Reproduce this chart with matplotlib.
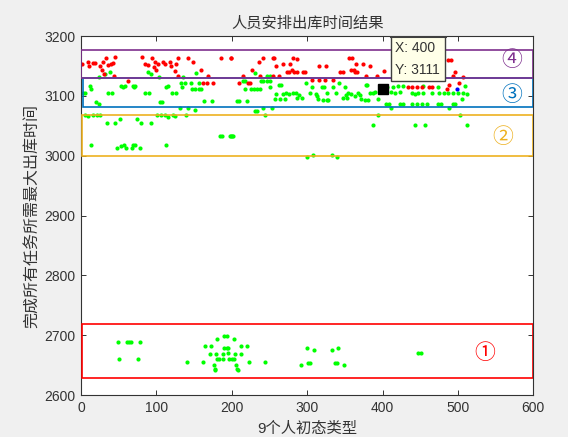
import matplotlib
matplotlib.use("Agg")
import matplotlib.pyplot as plt
from matplotlib.patches import Rectangle

plt.rcParams['font.family'] = ['Liberation Sans', 'Noto Sans CJK SC', 'DejaVu Sans']

# 数据
green_x = [
    2, 5.7, 11.5, 13.7, 20.3, 23.4, 23.4, 32.3, 38, 35.8, 41.1, 53.5, 57.9, 55.7, 68.9, 72, 70.3,
    84.4, 89.7, 88.8, 92.4, 103, 113.2, 115.4, 104.3, 107.4, 120.7, 126.4, 135.3, 133, 137.5,
    133.9, 145.4, 156, 147.2, 151.6, 156, 159.6, 153, 163.1, 173.7, 130.8, 141.9, 151.6,
    4.8, 9.3, 15.9, 21.6, 24.7, 101.2, 106.5, 111, 115.4, 122, 124.2, 139.7,
    34.9, 45.5, 51.3, 74.7, 80, 92.4,
    13.7, 48.2, 53.5, 57, 60.1, 67.6, 69, 72, 77.8, 113.2, 183.9, 187, 197.1, 199.4,
    214.4, 217.5, 230.8, 238.3, 241, 246.2, 250.6, 247, 250.6, 217.5, 225, 229.4, 233, 237.4,
    250.6, 263, 264.8, 258.6, 207.3, 210, 220.6, 230.8, 233.9, 241.8, 252.9, 244,
    257.3, 263.9, 270.5, 267.4, 271.9, 276.3, 280.7, 285.1, 289.6, 286.9, 292.6,
    298.4, 305.9, 319.2, 322.3, 303.7, 311.7, 313.4, 325.8, 314.8, 320.5, 325.8, 328,
    334.6, 342.6, 338.2, 350.1, 351, 354, 358.7, 363, 367, 370, 347, 352.3, 372, 376.6, 381,
    378, 379.8, 383.3, 386.8, 389.9, 394.3, 394.3, 386.8, 199.8, 202, 300.2, 307.2, 332.4, 339,
    405.4, 413.4, 420.9, 427.5, 454, 474, 509.3, 410.7, 416.5, 423.1, 438.6, 443, 447.4,
    454, 465.1, 475.3, 481.5, 487.2, 493.9, 500.5, 507.1, 512.4,
    404.6, 409, 423.1, 427.5, 438.6, 446.1, 451.9, 458.5, 474, 477, 493, 496, 488.5, 504.9,
    410.7, 502.7, 443, 456.3, 512.4,
    49.5, 60.6, 64.1, 65.9, 78.2, 50.8, 76, 140.1, 161.4, 164.4, 172, 179.9, 189.6, 193.2,
    202.9, 211.7, 219.7, 171.1, 179, 187.9, 195.4, 204.2, 211.7, 189.6, 193.2, 195.4,
    179.9, 183.5, 187.9, 196.7, 199.8, 202.9, 176.4, 177.7, 177.7, 205.6, 206.5, 208.7,
    223.2, 244, 300.2, 309, 332.4, 341.3, 291.8, 301.5, 303.7, 336.9, 339.1, 348.8,
    447.4, 450.5,
]
green_y = [
    3105, 3105, 3116, 3112, 3090, 3087, 3131, 3136, 3139, 3105, 3105, 3116, 3116, 3114, 3116, 3116, 3114,
    3105, 3105, 3139, 3136, 3131, 3114, 3116, 3089, 3090, 3105, 3105, 3131, 3122, 3122,
    3114, 3122, 3122, 3111, 3111, 3111, 3111, 3138, 3092, 3092, 3079, 3079, 3076,
    3068, 3066, 3068, 3068, 3068, 3068, 3068, 3068, 3065, 3068, 3066, 3068,
    3055, 3055, 3061, 3061, 3055, 3055,
    3018, 3012, 3016, 3018, 3012, 3012, 3018, 3018, 3012, 3018, 3033, 3033, 3033, 3033,
    3124, 3124, 3138, 3124, 3124, 3124, 3124, 3133, 3133, 3111, 3111, 3111, 3111, 3111,
    3115, 3118, 3118, 3103, 3092, 3092, 3092, 3075, 3075, 3079, 3079, 3068,
    3094, 3094, 3094, 3103, 3105, 3103, 3105, 3104, 3101, 3097, 3097,
    3122, 3114, 3114, 3114, 3104, 3103, 3100, 3105, 3094, 3093, 3093, 3093,
    3114, 3122, 3104, 3114, 3101, 3104, 3103, 3100, 3104, 3101, 3097, 3097, 3094, 3093, 3093,
    3118, 3118, 3104, 3105, 3106, 3094, 3068, 3051, 3033, 3033, 2998, 3001, 3001, 2998,
    3115, 3115, 3116, 3116, 3116, 3115, 3116, 3106, 3105, 3106, 3105, 3103, 3105,
    3104, 3104, 3105, 3105, 3105, 3104, 3105, 3104, 3103,
    3087, 3087, 3086, 3086, 3086, 3086, 3087, 3086, 3086, 3086, 3086, 3086, 3079, 3094,
    3079, 3068, 3051, 3051, 3051,
    2689, 2688, 2688, 2688, 2689, 2661, 2661, 2655, 2655, 2682, 2682, 2693, 2698, 2698,
    2693, 2682, 2682, 2668, 2669, 2669, 2670, 2669, 2668, 2679, 2679, 2679,
    2661, 2661, 2661, 2661, 2661, 2661, 2650, 2644, 2641, 2650, 2644, 2641,
    2655, 2655, 2679, 2676, 2676, 2679, 2650, 2654, 2653, 2653, 2654, 2650,
    2670, 2670,
]
red_x = [
    1.3, 9.3, 10.1, 15.9, 19, 24.7, 29.2, 27.8, 32.7, 35.8, 39.3, 42.4, 30.5, 43.7, 45.5,
    80.9, 94.1, 84.4, 88.8, 97.7, 96.8, 99.9, 102, 108.7, 111.8, 117.6, 119.8, 126.4, 128.6,
    124.2, 141.9, 148.5, 158.7, 128.6, 168.4, 186, 199.4, 62.3, 161.8, 167.5, 174.6,
    198.5, 241.8, 236.5, 254.2, 256, 226.3, 258.6, 267.5, 277.2, 281.6, 286.9, 279.4,
    273.6, 276.3, 282.5, 286, 294, 297, 316, 325, 355.9, 359, 364.7, 373.5, 383.3,
    357.6, 362, 363.4, 366.5, 343.5, 347, 378, 392, 214.4, 210, 221.9, 224.1, 237.4, 263,
    306, 316, 323.6, 334.6, 255, 401.9, 487.2, 490.3, 496, 493, 488.5, 501.8, 506.2,
    434.2, 438.6, 445.2, 451.9, 462, 465.1, 485,
]
red_y = [
    3154, 3157, 3150, 3155, 3155, 3150, 3157, 3144, 3164, 3152, 3153, 3155, 3136, 3133, 3165,
    3165, 3164, 3154, 3152, 3157, 3148, 3144, 3154, 3157, 3153, 3157, 3150, 3154, 3163,
    3142, 3164, 3157, 3143, 3133, 3133, 3163, 3163, 3125, 3122, 3122, 3122,
    3163, 3164, 3157, 3163, 3163, 3143, 3150, 3153, 3153, 3164, 3161, 3144,
    3139, 3139, 3139, 3139, 3139, 3139, 3150, 3150, 3163, 3164, 3153, 3153, 3150,
    3144, 3144, 3139, 3139, 3139, 3139, 3133, 3133, 3133, 3122, 3122, 3122, 3133, 3133,
    3127, 3127, 3127, 3127, 3133, 3142, 3160, 3160, 3140, 3133, 3118, 3122, 3131,
    3114, 3114, 3114, 3114, 3114, 3114, 3112,
]
blue_x = [498.3]
blue_y = [3112]

tip_x, tip_y = 400, 3111

# 分区框: (下界, 上界, 左界)
box_lims = [(2628, 2718, 1), (2999, 3068, 1.5), (3082, 3129, 2), (3130, 3177, 0)]
box_colors = ['#ff0000', '#edb120', '#0072bd', '#7e2f8e']
box_labels = ['①', '②', '③', '④']
label_pos = [(536, 2670), (560, 3031), (572, 3101), (572, 3160)]

fig = plt.figure(figsize=(5.68, 4.37), dpi=100)
fig.patch.set_facecolor('#f0f0f0')
ax = fig.add_axes([81 / 568, 1 - 395 / 437, 452.3 / 568, 359 / 437])

ax.scatter(green_x, green_y, s=9, c='#00ff00', linewidths=0, zorder=2)
ax.scatter(red_x, red_y, s=9, c='#ff0000', linewidths=0, zorder=2)
ax.scatter(blue_x, blue_y, s=9, c='#0000ff', linewidths=0, zorder=2)

for (lo, hi, left), col, lab, (lx, ly) in zip(box_lims, box_colors, box_labels, label_pos):
    ax.add_patch(Rectangle((left, lo), 600 - left, hi - lo, fill=False,
                           edgecolor=col, linewidth=1.2, zorder=3))
    ax.text(lx, ly, lab, color=col, fontsize=15, ha='center', va='center',
            family=['Noto Sans CJK SC', 'DejaVu Sans'])

# datatip
ax.plot([tip_x], [tip_y], marker='s', markersize=6.5, color='black', zorder=5)
ax.add_patch(Rectangle((410.7, 3124.8), 72, 75.2, facecolor='#ffffe8',
                       edgecolor='#404040', linewidth=1.0, zorder=6))
ax.plot([410.7, 482.7], [3199.3, 3199.3], color='#404040', linewidth=2.2, zorder=7)
ax.text(416, 3180, f'X: {tip_x}', fontsize=10, color='#333333', va='center', zorder=8)
ax.text(416, 3144, f'Y: {tip_y}', fontsize=10, color='#333333', va='center', zorder=8)

ax.set_xlim(0, 600)
ax.set_ylim(2600, 3200)
ax.set_xticks(range(0, 601, 100))
ax.set_yticks(range(2600, 3201, 100))
ax.tick_params(direction='in', top=True, right=True, length=3.5, width=0.7,
               labelsize=10, colors='#333333', pad=4)
for sp in ax.spines.values():
    sp.set_color('#333333')
    sp.set_linewidth(0.8)

ax.set_title('人员安排出库时间结果', fontsize=11, color='#333333', pad=6)
ax.set_xlabel('9个人初态类型', fontsize=11, color='#333333', labelpad=5)
ax.set_ylabel('完成所有任务所需最大出库时间', fontsize=11.5, color='#333333', labelpad=4)

fig.savefig('out.png', dpi=100, facecolor=fig.get_facecolor())
